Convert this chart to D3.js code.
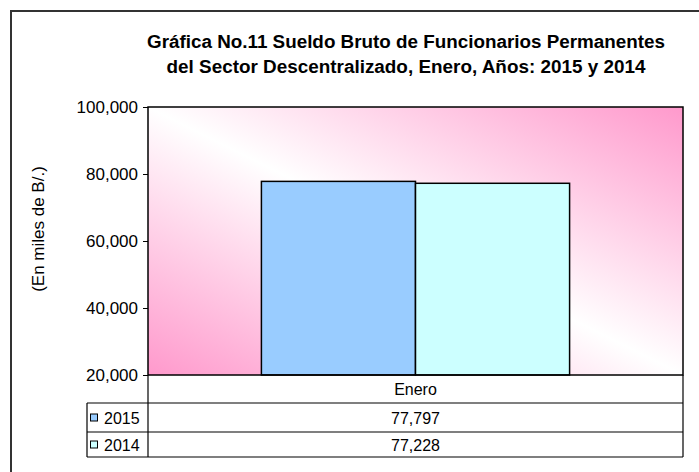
<!DOCTYPE html>
<html>
<head>
<meta charset="utf-8">
<script src="https://cdn.jsdelivr.net/npm/d3@7"></script>
<style>
  body { margin: 0; background: #fff; }
  svg text { font-family: Arial, "Liberation Sans", sans-serif; fill: #000; }
</style>
</head>
<body>
<svg id="chart" width="699" height="472" viewBox="0 0 699 472"></svg>
<script>
var titleLines = ["Gráfica No.11 Sueldo Bruto de Funcionarios Permanentes",
                  "del Sector Descentralizado, Enero, Años: 2015 y 2014"];
var yLabel = "(En miles de B/.)";
var categories = ["Enero"];
var seriesNames = ["2015", "2014"];
var values2015 = [77797];
var values2014 = [77228];
var seriesColors = ["#99CCFF", "#CCFFFF"];
var yTicks = [20000, 40000, 60000, 80000, 100000];

(function () {
  var svg = d3.select("#chart");

  // plot area
  var pLeft = 148, pRight = 683, pTop = 107, pBottom = 375;
  var rowH = [28, 29, 25]; // category row, 2015 row, 2014 row
  var tableLeft = 87;
  var series = [values2015, values2014];

  // outer border of the chart (runs off the right and bottom)
  svg.append("rect")
    .attr("x", 11).attr("y", 11)
    .attr("width", 720).attr("height", 480)
    .attr("fill", "#fff")
    .attr("stroke", "#333").attr("stroke-width", 2);

  // title
  var titleLen = [518, 479];
  svg.selectAll("text.title")
    .data(titleLines)
    .enter().append("text")
    .attr("class", "title")
    .attr("x", 406)
    .attr("y", function (d, i) { return 48 + i * 25; })
    .attr("text-anchor", "middle")
    .attr("textLength", function (d, i) { return titleLen[i]; })
    .attr("lengthAdjust", "spacingAndGlyphs")
    .style("font-size", "18px")
    .style("font-weight", "bold")
    .text(function (d) { return d; });

  // gradient background for the plot area
  var defs = svg.append("defs");
  var grad = defs.append("linearGradient")
    .attr("id", "bg")
    .attr("x1", 0).attr("y1", 1).attr("x2", 1).attr("y2", 0);
  grad.append("stop").attr("offset", "0%").attr("stop-color", "#FF99CC");
  grad.append("stop").attr("offset", "50%").attr("stop-color", "#FFFFFF");
  grad.append("stop").attr("offset", "100%").attr("stop-color", "#FF99CC");

  svg.append("rect")
    .attr("x", pLeft).attr("y", pTop)
    .attr("width", pRight - pLeft).attr("height", pBottom - pTop)
    .attr("fill", "url(#bg)");

  var yScale = d3.scaleLinear()
    .domain([20000, 100000])
    .range([pBottom, pTop]);

  var xScale = d3.scaleBand()
    .domain(categories)
    .range([pLeft, pRight])
    .paddingInner(0)
    .paddingOuter(0.368);

  var xSub = d3.scaleBand()
    .domain(seriesNames)
    .range([0, xScale.bandwidth()]);

  // bars
  var groups = svg.selectAll("g.cat")
    .data(categories)
    .enter().append("g")
    .attr("class", "cat")
    .attr("transform", function (d) { return "translate(" + xScale(d) + ",0)"; });

  groups.selectAll("rect")
    .data(function (d, ci) {
      return seriesNames.map(function (s, si) {
        return { name: s, value: series[si][ci], color: seriesColors[si] };
      });
    })
    .enter().append("rect")
    .attr("x", function (d) { return xSub(d.name); })
    .attr("y", function (d) { return yScale(d.value); })
    .attr("width", xSub.bandwidth())
    .attr("height", function (d) { return pBottom - yScale(d.value); })
    .attr("fill", function (d) { return d.color; })
    .attr("stroke", "#000")
    .attr("stroke-width", 1.5);

  // plot border
  svg.append("rect")
    .attr("x", pLeft).attr("y", pTop)
    .attr("width", pRight - pLeft).attr("height", pBottom - pTop)
    .attr("fill", "none")
    .attr("stroke", "#000").attr("stroke-width", 1.5);

  // y axis
  var yAxis = d3.axisLeft(yScale)
    .tickValues(yTicks)
    .tickSize(5)
    .tickPadding(5)
    .tickFormat(d3.format(","));

  var yG = svg.append("g")
    .attr("transform", "translate(" + pLeft + ",0)")
    .call(yAxis);
  yG.attr("font-family", null).attr("font-size", null);
  yG.select(".domain").remove();
  yG.selectAll("line").attr("stroke", "#000");
  yG.selectAll("text").style("font-size", "17px");

  // y axis title
  svg.append("text")
    .attr("transform", "translate(44,229) rotate(-90)")
    .attr("text-anchor", "middle")
    .style("font-size", "17px")
    .text(yLabel);

  // data table
  var y0 = pBottom, y1 = y0 + rowH[0], y2 = y1 + rowH[1], y3 = y2 + rowH[2];
  var lines = [
    [pLeft, y0, pLeft, y3],
    [pRight, y0, pRight, y3],
    [tableLeft, y1, pRight, y1],
    [tableLeft, y2, pRight, y2],
    [tableLeft, y3, pRight, y3],
    [tableLeft, y1, tableLeft, y3]
  ];
  svg.selectAll("line.tbl")
    .data(lines)
    .enter().append("line")
    .attr("class", "tbl")
    .attr("x1", function (d) { return d[0]; })
    .attr("y1", function (d) { return d[1]; })
    .attr("x2", function (d) { return d[2]; })
    .attr("y2", function (d) { return d[3]; })
    .attr("stroke", "#000")
    .attr("stroke-width", 1.2);

  svg.selectAll("text.catlabel")
    .data(categories)
    .enter().append("text")
    .attr("class", "catlabel")
    .attr("x", function (d) { return xScale(d) + xScale.bandwidth() / 2; })
    .attr("y", y0 + rowH[0] / 2 + 6)
    .attr("text-anchor", "middle")
    .style("font-size", "16px")
    .text(function (d) { return d; });

  var rowTops = [y1, y2];
  var fmt = d3.format(",");
  seriesNames.forEach(function (s, si) {
    var cy = rowTops[si] + rowH[si + 1] / 2;
    svg.append("rect")
      .attr("x", tableLeft + 3.5).attr("y", cy - 3.5)
      .attr("width", 7).attr("height", 7)
      .attr("fill", seriesColors[si])
      .attr("stroke", "#000").attr("stroke-width", 1);
    svg.append("text")
      .attr("x", tableLeft + 17)
      .attr("y", cy + 6)
      .style("font-size", "16px")
      .text(s);
    categories.forEach(function (c, ci) {
      svg.append("text")
        .attr("x", xScale(c) + xScale.bandwidth() / 2)
        .attr("y", cy + 6)
        .attr("text-anchor", "middle")
        .style("font-size", "16px")
        .text(fmt(series[si][ci]));
    });
  });
})();
</script>
</body>
</html>
